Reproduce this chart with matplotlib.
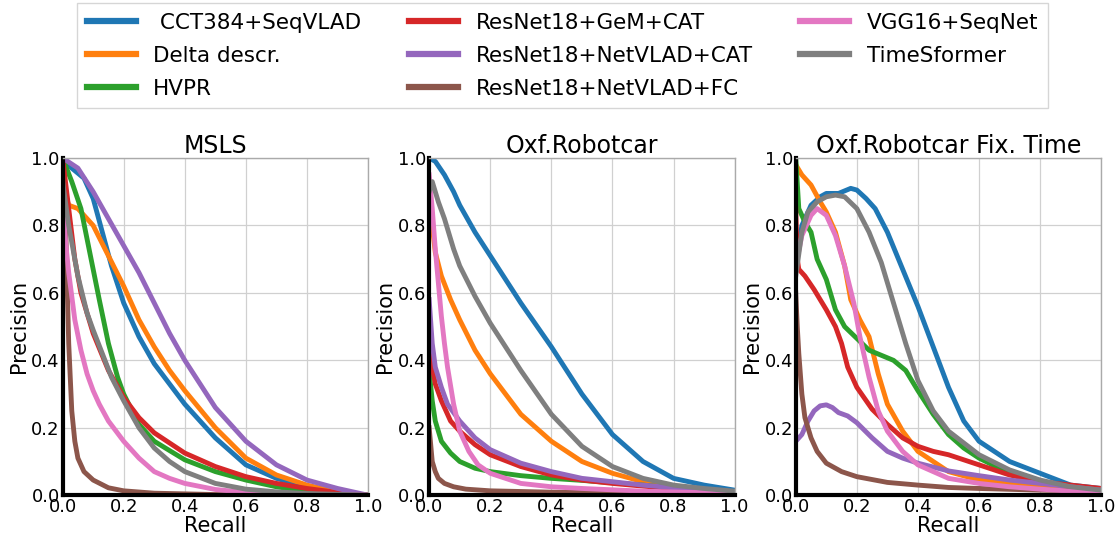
import matplotlib
matplotlib.use("Agg")
import matplotlib.pyplot as plt

names = [" CCT384+SeqVLAD", "Delta descr.", "HVPR", "ResNet18+GeM+CAT",
         "ResNet18+NetVLAD+CAT", "ResNet18+NetVLAD+FC", "VGG16+SeqNet", "TimeSformer"]
colors = ["#1f77b4", "#ff7f0e", "#2ca02c", "#d62728",
          "#9467bd", "#8c564b", "#e377c2", "#7f7f7f"]
titles = ["MSLS", "Oxf.Robotcar", "Oxf.Robotcar Fix. Time"]

# ---- MSLS: (recall, precision) per method
msls_cct = ([0, 0.03, 0.07, 0.1, 0.13, 0.16, 0.2, 0.25, 0.3, 0.35, 0.4, 0.5, 0.6, 0.7, 0.8, 0.9, 1.0],
            [1.0, 0.97, 0.94, 0.88, 0.78, 0.68, 0.57, 0.47, 0.39, 0.33, 0.27, 0.17, 0.09, 0.05, 0.025, 0.01, 0.0])
msls_delta = ([0, 0.02, 0.05, 0.1, 0.15, 0.2, 0.25, 0.3, 0.35, 0.4, 0.5, 0.6, 0.7, 0.8, 0.9, 1.0],
              [0.92, 0.86, 0.85, 0.8, 0.71, 0.62, 0.52, 0.44, 0.37, 0.31, 0.2, 0.11, 0.06, 0.03, 0.01, 0.0])
msls_hvpr = ([0, 0.03, 0.06, 0.08, 0.1, 0.12, 0.15, 0.18, 0.2, 0.25, 0.3, 0.4, 0.5, 0.6, 0.7, 0.8, 0.9, 1.0],
             [1.0, 0.93, 0.85, 0.76, 0.67, 0.58, 0.45, 0.35, 0.3, 0.21, 0.16, 0.105, 0.07, 0.045, 0.025, 0.012, 0.005, 0.0])
msls_gem = ([0, 0.02, 0.04, 0.06, 0.1, 0.15, 0.2, 0.25, 0.3, 0.4, 0.5, 0.6, 0.7, 0.8, 0.9, 1.0],
            [1.0, 0.85, 0.7, 0.6, 0.48, 0.37, 0.29, 0.23, 0.185, 0.125, 0.085, 0.055, 0.035, 0.02, 0.008, 0.0])
msls_nvcat = ([0, 0.05, 0.1, 0.15, 0.2, 0.25, 0.3, 0.35, 0.4, 0.5, 0.6, 0.7, 0.8, 0.9, 1.0],
              [1.0, 0.97, 0.9, 0.82, 0.74, 0.66, 0.57, 0.48, 0.4, 0.26, 0.16, 0.09, 0.045, 0.02, 0.0])
msls_nvfc = ([0, 0.01, 0.015, 0.02, 0.03, 0.04, 0.05, 0.07, 0.1, 0.15, 0.2, 0.3, 0.5, 1.0],
             [0.95, 0.8, 0.62, 0.45, 0.25, 0.16, 0.11, 0.07, 0.045, 0.022, 0.013, 0.006, 0.002, 0.0])
msls_vgg = ([0, 0.01, 0.02, 0.04, 0.06, 0.08, 0.1, 0.12, 0.15, 0.2, 0.25, 0.3, 0.35, 0.4, 0.5, 0.6, 0.8, 1.0],
            [0.88, 0.75, 0.66, 0.52, 0.43, 0.36, 0.31, 0.27, 0.22, 0.16, 0.11, 0.07, 0.05, 0.035, 0.017, 0.008, 0.002, 0.0])
msls_tsf = ([0, 0.02, 0.05, 0.08, 0.1, 0.13, 0.16, 0.2, 0.25, 0.3, 0.35, 0.4, 0.5, 0.6, 0.7, 0.8, 1.0],
            [0.93, 0.8, 0.65, 0.54, 0.49, 0.42, 0.35, 0.28, 0.2, 0.14, 0.1, 0.07, 0.035, 0.018, 0.01, 0.005, 0.0])

# ---- Oxf.Robotcar
oxf_cct = ([0, 0.02, 0.05, 0.08, 0.1, 0.15, 0.2, 0.3, 0.4, 0.5, 0.6, 0.7, 0.8, 0.9, 1.0],
           [1.0, 0.99, 0.95, 0.9, 0.86, 0.78, 0.71, 0.57, 0.44, 0.3, 0.18, 0.1, 0.05, 0.03, 0.015])
oxf_delta = ([0, 0.01, 0.02, 0.04, 0.07, 0.1, 0.15, 0.2, 0.3, 0.4, 0.5, 0.6, 0.7, 0.8, 0.9, 1.0],
             [0.9, 0.8, 0.72, 0.65, 0.58, 0.52, 0.43, 0.36, 0.24, 0.16, 0.1, 0.065, 0.04, 0.025, 0.016, 0.01])
oxf_hvpr = ([0, 0.01, 0.02, 0.04, 0.07, 0.1, 0.15, 0.2, 0.3, 0.4, 0.5, 0.6, 0.7, 0.8, 0.9, 1.0],
            [0.37, 0.28, 0.22, 0.16, 0.125, 0.1, 0.08, 0.07, 0.058, 0.05, 0.044, 0.037, 0.03, 0.022, 0.015, 0.01])
oxf_gem = ([0, 0.01, 0.02, 0.04, 0.07, 0.1, 0.15, 0.2, 0.3, 0.4, 0.5, 0.6, 0.7, 0.8, 0.9, 1.0],
           [0.47, 0.38, 0.33, 0.28, 0.22, 0.19, 0.15, 0.12, 0.085, 0.06, 0.045, 0.035, 0.027, 0.02, 0.014, 0.01])
oxf_nvcat = ([0, 0.01, 0.02, 0.04, 0.06, 0.1, 0.15, 0.2, 0.3, 0.4, 0.5, 0.6, 0.7, 0.8, 0.9, 1.0],
             [0.58, 0.45, 0.38, 0.32, 0.27, 0.22, 0.17, 0.135, 0.095, 0.07, 0.05, 0.04, 0.03, 0.022, 0.015, 0.01])
oxf_nvfc = ([0, 0.005, 0.01, 0.02, 0.03, 0.05, 0.08, 0.12, 0.2, 0.4, 0.6, 0.8, 1.0],
            [0.2, 0.15, 0.1, 0.07, 0.05, 0.035, 0.025, 0.018, 0.013, 0.009, 0.007, 0.005, 0.004])
oxf_vgg = ([0, 0.01, 0.02, 0.03, 0.04, 0.05, 0.06, 0.08, 0.1, 0.13, 0.16, 0.2, 0.3, 0.4, 0.5, 0.7, 1.0],
           [0.95, 0.85, 0.73, 0.63, 0.53, 0.45, 0.38, 0.27, 0.19, 0.13, 0.09, 0.065, 0.035, 0.025, 0.02, 0.012, 0.005])
oxf_tsf = ([0, 0.01, 0.03, 0.05, 0.08, 0.1, 0.15, 0.2, 0.3, 0.4, 0.5, 0.6, 0.7, 0.8, 0.9, 1.0],
           [0.9, 0.93, 0.87, 0.82, 0.73, 0.68, 0.59, 0.51, 0.37, 0.24, 0.145, 0.085, 0.05, 0.03, 0.02, 0.012])

# ---- Oxf.Robotcar Fix. Time
fix_cct = ([0, 0.02, 0.05, 0.08, 0.1, 0.14, 0.18, 0.2, 0.23, 0.26, 0.3, 0.35, 0.4, 0.45, 0.5, 0.55, 0.6, 0.7, 0.8, 0.9, 1.0],
           [0.68, 0.8, 0.86, 0.885, 0.895, 0.895, 0.91, 0.905, 0.88, 0.85, 0.78, 0.67, 0.56, 0.44, 0.32, 0.22, 0.16, 0.1, 0.065, 0.03, 0.02])
fix_delta = ([0, 0.02, 0.05, 0.08, 0.1, 0.13, 0.16, 0.18, 0.21, 0.24, 0.27, 0.3, 0.35, 0.4, 0.5, 0.6, 0.7, 0.8, 0.9, 1.0],
             [0.98, 0.95, 0.92, 0.87, 0.84, 0.78, 0.68, 0.58, 0.52, 0.47, 0.36, 0.27, 0.19, 0.13, 0.07, 0.045, 0.035, 0.025, 0.02, 0.015])
fix_hvpr = ([0, 0.01, 0.03, 0.05, 0.07, 0.1, 0.13, 0.16, 0.2, 0.24, 0.28, 0.32, 0.36, 0.4, 0.45, 0.5, 0.55, 0.6, 0.7, 0.8, 0.9, 1.0],
            [1.0, 0.85, 0.81, 0.78, 0.7, 0.64, 0.55, 0.5, 0.465, 0.43, 0.415, 0.4, 0.37, 0.31, 0.24, 0.18, 0.14, 0.11, 0.065, 0.04, 0.025, 0.015])
fix_gem = ([0, 0.005, 0.01, 0.03, 0.06, 0.1, 0.13, 0.15, 0.17, 0.2, 0.25, 0.3, 0.35, 0.4, 0.45, 0.5, 0.55, 0.6, 0.7, 0.8, 0.9, 1.0],
           [0.85, 0.7, 0.67, 0.65, 0.61, 0.55, 0.5, 0.45, 0.38, 0.32, 0.255, 0.21, 0.17, 0.145, 0.13, 0.12, 0.105, 0.09, 0.06, 0.04, 0.03, 0.02])
fix_nvcat = ([0, 0.02, 0.04, 0.06, 0.08, 0.1, 0.12, 0.14, 0.17, 0.2, 0.25, 0.3, 0.35, 0.4, 0.5, 0.6, 0.7, 0.8, 0.9, 1.0],
             [0.16, 0.18, 0.22, 0.25, 0.265, 0.268, 0.26, 0.245, 0.235, 0.215, 0.17, 0.13, 0.11, 0.095, 0.072, 0.058, 0.045, 0.035, 0.025, 0.015])
fix_nvfc = ([0, 0.005, 0.01, 0.02, 0.03, 0.05, 0.07, 0.1, 0.15, 0.2, 0.3, 0.4, 0.5, 0.6, 0.8, 1.0],
            [0.6, 0.5, 0.42, 0.3, 0.23, 0.17, 0.13, 0.095, 0.07, 0.055, 0.038, 0.03, 0.023, 0.02, 0.015, 0.012])
fix_vgg = ([0, 0.02, 0.05, 0.07, 0.1, 0.13, 0.16, 0.19, 0.21, 0.24, 0.27, 0.3, 0.35, 0.4, 0.5, 0.6, 0.7, 0.8, 0.9, 1.0],
           [0.68, 0.77, 0.83, 0.85, 0.83, 0.77, 0.68, 0.57, 0.47, 0.35, 0.25, 0.19, 0.13, 0.09, 0.05, 0.035, 0.025, 0.018, 0.012, 0.008])
fix_tsf = ([0, 0.02, 0.04, 0.07, 0.1, 0.13, 0.16, 0.2, 0.24, 0.28, 0.32, 0.36, 0.4, 0.45, 0.5, 0.6, 0.7, 0.8, 0.9, 1.0],
           [0.65, 0.78, 0.84, 0.87, 0.885, 0.89, 0.885, 0.85, 0.78, 0.69, 0.57, 0.45, 0.34, 0.25, 0.19, 0.12, 0.075, 0.045, 0.025, 0.015])

panels = [
    [msls_cct, msls_delta, msls_hvpr, msls_gem, msls_nvcat, msls_nvfc, msls_vgg, msls_tsf],
    [oxf_cct, oxf_delta, oxf_hvpr, oxf_gem, oxf_nvcat, oxf_nvfc, oxf_vgg, oxf_tsf],
    [fix_cct, fix_delta, fix_hvpr, fix_gem, fix_nvcat, fix_nvfc, fix_vgg, fix_tsf],
]

fig, axes = plt.subplots(1, 3, figsize=(11.18, 5.43), dpi=100)
fig.subplots_adjust(left=0.056, right=0.985, top=0.709, bottom=0.088, wspace=0.2)

ticks = [0.0, 0.2, 0.4, 0.6, 0.8, 1.0]
for ax, title, curves in zip(axes, titles, panels):
    for (r, p), name, c in zip(curves, names, colors):
        ax.plot(r, p, color=c, lw=3.5, label=name)
    ax.set_xlim(0, 1)
    ax.set_ylim(0, 1)
    ax.set_xticks(ticks)
    ax.set_yticks(ticks)
    ax.tick_params(length=0, labelsize=13, pad=2)
    ax.grid(True, color="#d0d0d0", lw=0.9)
    ax.set_axisbelow(True)
    ax.set_title(title, fontsize=17, pad=3)
    ax.set_xlabel("Recall", fontsize=15, labelpad=0)
    ax.set_ylabel("Precision", fontsize=15, labelpad=2)
    for s in ["left", "bottom"]:
        ax.spines[s].set_color("black")
        ax.spines[s].set_linewidth(3)
    for s in ["top", "right"]:
        ax.spines[s].set_color("#aaaaaa")
        ax.spines[s].set_linewidth(1)

handles, labels = axes[0].get_legend_handles_labels()
leg = fig.legend(handles, labels, loc="upper center", bbox_to_anchor=(0.503, 1.014),
                 ncol=3, fontsize=15.5, handlelength=2.3, columnspacing=2.2,
                 labelspacing=0.6, borderpad=0.45, fancybox=False)
for h in leg.get_lines():
    h.set_linewidth(4.5)

fig.savefig("out.png", dpi=100)
